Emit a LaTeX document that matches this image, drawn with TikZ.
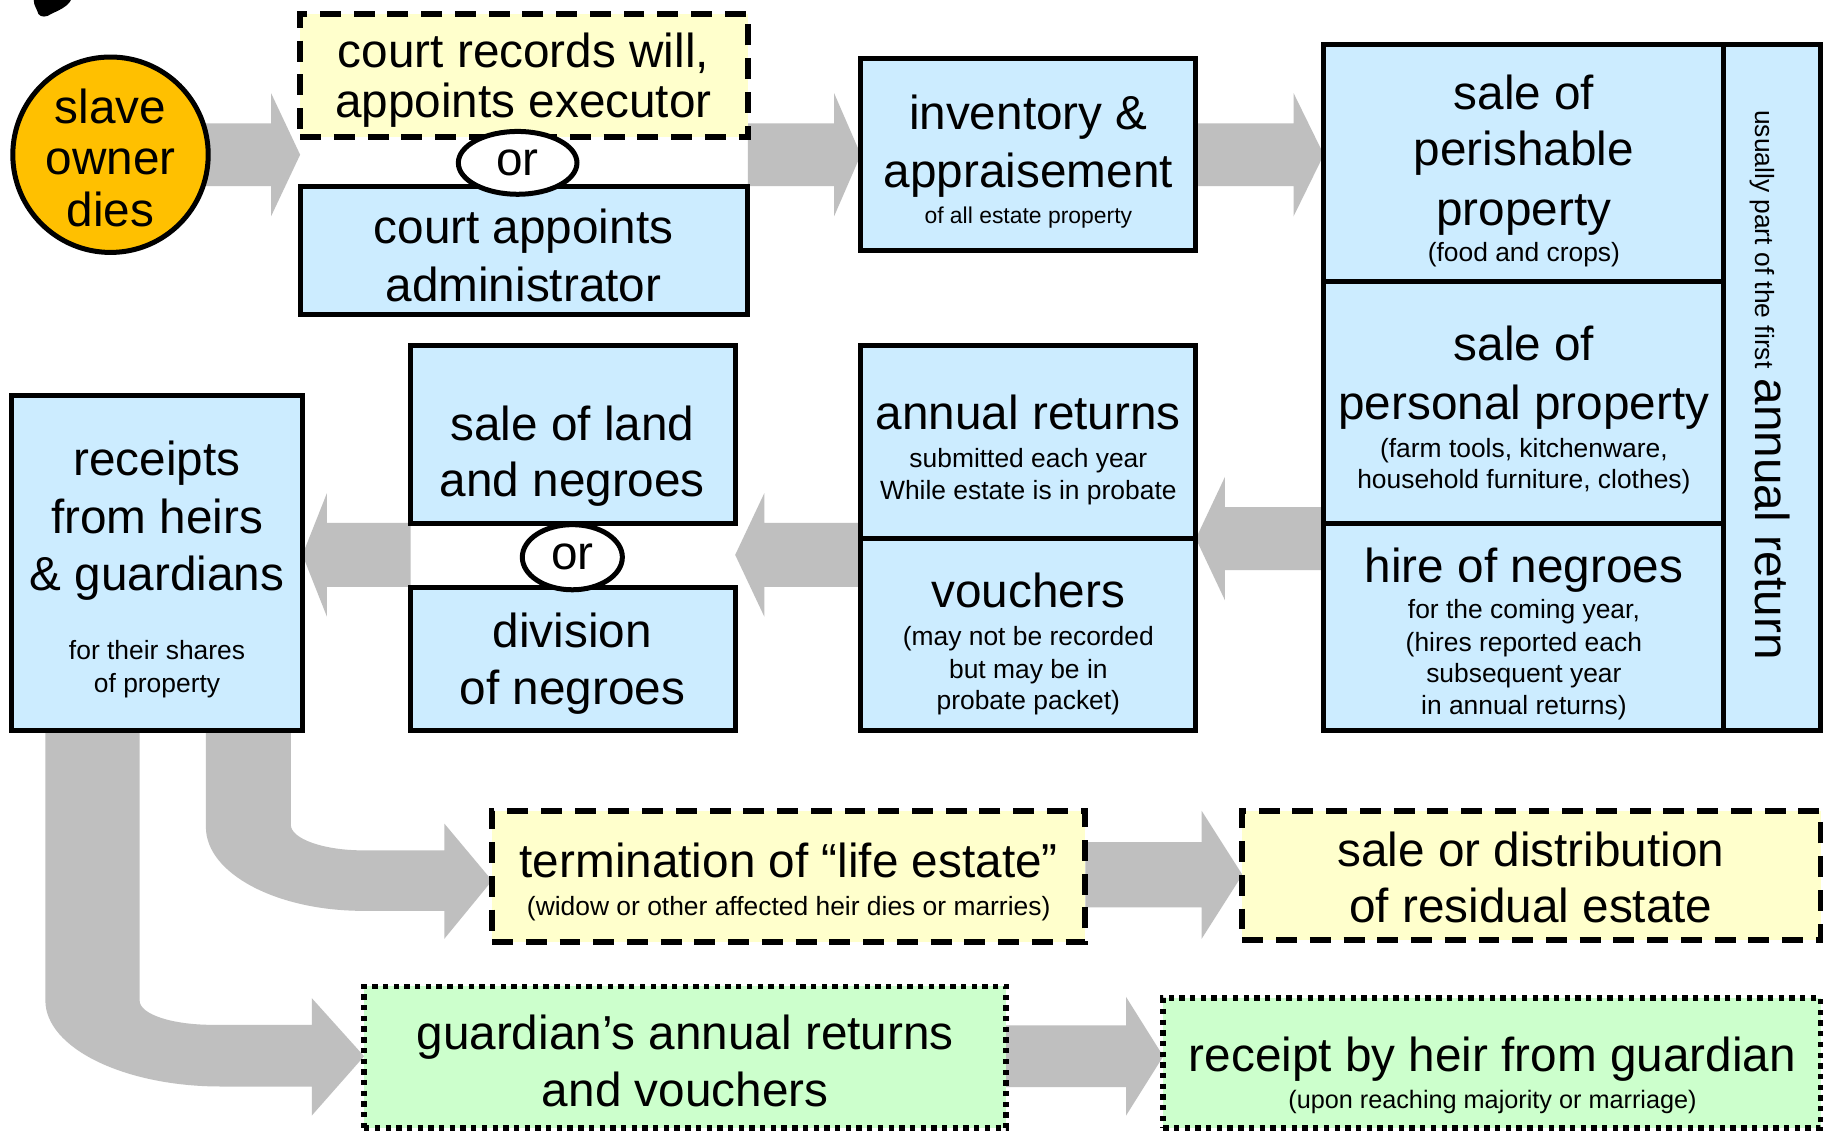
\documentclass[tikz,border=0pt]{standalone}
\usepackage{fontspec}
\setmainfont{Liberation Sans}
\usetikzlibrary{shapes.geometric,calc,backgrounds}
\definecolor{boxblue}{HTML}{CCECFF}
\definecolor{boxyellow}{HTML}{FFFFCC}
\definecolor{boxgreen}{HTML}{CCFFCC}
\definecolor{dieorange}{HTML}{FFC000}
\definecolor{arrowgray}{HTML}{BFBFBF}
\newcommand\bigf{\fontsize{41}{49}\selectfont}
\newcommand\smf{\fontsize{22.7}{27}\selectfont}
\newcommand\smff{\fontsize{21.7}{26}\selectfont}
\newcommand\tinyf{\fontsize{19.7}{24}\selectfont}
\tikzset{
 basebox/.style={draw=black, line width=4.3pt, rectangle, inner sep=0pt, outer sep=0pt},
 bluebox/.style={basebox, fill=boxblue},
 yelbox/.style={basebox, fill=boxyellow, line width=5pt, dash pattern=on 18pt off 11pt},
 grnbox/.style={basebox, fill=boxgreen, line width=5pt, dash pattern=on 4.6pt off 4.6pt},
 ornode/.style={ellipse, draw=black, line width=4.3pt, fill=white, inner sep=0pt, font=\bigf},
 lbl/.style={anchor=base, inner sep=0pt, font=\bigf, yshift=-4pt},
 slbl/.style={anchor=base, inner sep=0pt, font=\smf, yshift=-3pt},
}
\newcommand\mybox[6]{\node[#2, anchor=north west, minimum width={#5-#3}, minimum height={#6-#4}] (#1) at (#3,#4) {};}
\newcommand\tl[5]{\node[#4] (#1) at (#2,#3) {#5};}
% right-pointing block arrow: start node, tip node, y, shaft half, head half, head length
\newcommand\rblk[6]{\fill[arrowgray] let \p1=(#1), \p2=(#2), \p3=(0,#3) in
 (\x1,\y3+#4) -- (\x2-#6,\y3+#4) -- (\x2-#6,\y3+#5) -- (\x2,\y3) -- (\x2-#6,\y3-#5) -- (\x2-#6,\y3-#4) -- (\x1,\y3-#4) -- cycle;}
\newcommand\lblk[6]{\fill[arrowgray] let \p1=(#1), \p2=(#2), \p3=(0,#3) in
 (\x1,\y3+#4) -- (\x2+#6,\y3+#4) -- (\x2+#6,\y3+#5) -- (\x2,\y3) -- (\x2+#6,\y3-#5) -- (\x2+#6,\y3-#4) -- (\x1,\y3-#4) -- cycle;}
\begin{document}
\begin{tikzpicture}[x=1pt,y=-1pt]
\useasboundingbox (0,0) rectangle (1568,975);
% blob
\fill (29,0) -- (61,0) .. controls (58,6) and (50,9) .. (44,12) .. controls (40,15) and (35,15) .. (33,12) .. controls (32,8) and (29,5) .. cycle;
% start circle
\node[circle, draw=black, line width=4.3pt, fill=dieorange, minimum size=168pt, inner sep=0pt] (dies) at (95,133) {};
% boxes
\mybox{crec}{yelbox}{258}{12}{643}{118}
\mybox{cadm}{bluebox}{258}{160}{643}{270}
\mybox{inv}{bluebox}{740}{50}{1028}{215}
\mybox{perish}{bluebox}{1138}{38}{1482}{242}
\mybox{pers}{bluebox}{1138}{242}{1482}{450}
\mybox{hire}{bluebox}{1138}{450}{1482}{628}
\mybox{strip}{bluebox}{1482}{38}{1565}{628}
\mybox{annret}{bluebox}{740}{297}{1028}{463}
\mybox{vouch}{bluebox}{740}{463}{1028}{628}
\mybox{sland}{bluebox}{353}{297}{632}{450}
\mybox{divn}{bluebox}{353}{505}{632}{628}
\mybox{rcpt}{bluebox}{10}{340}{260}{628}
\mybox{term}{yelbox}{423}{697}{933}{810}
\mybox{sdist}{yelbox}{1068}{697}{1565}{808}
\mybox{guard}{grnbox}{313}{848}{865}{970}
\mybox{rheir}{grnbox}{1000}{858}{1565}{970}
% or nodes
\node[ornode, minimum width=102pt, minimum height=54pt] (or1) at (445,140) {or};
\node[ornode, minimum width=86pt, minimum height=56pt] (or2) at (492,479) {or};
% texts
\tl{t1}{95}{102}{lbl}{slave}
\tl{t2}{95}{146}{lbl}{owner}
\tl{t3}{95}{191}{lbl}{dies}
\tl{t4}{450}{54}{lbl}{court records will,}
\tl{t5}{450}{97}{lbl}{appoints executor}
\tl{t6}{450}{205}{lbl}{court appoints}
\tl{t7}{450}{255}{lbl}{administrator}
\tl{t8}{884}{107}{lbl}{inventory \&}
\tl{t9}{884}{157}{lbl}{appraisement}
\tl{t10}{884}{189}{slbl,font=\tinyf}{of all estate property}
\tl{t11}{1310}{90}{lbl}{sale of}
\tl{t12}{1310}{138}{lbl}{perishable}
\tl{t13}{1310}{190}{lbl}{property}
\tl{t14}{1310}{222}{slbl}{(food and crops)}
\tl{t15}{1310}{306}{lbl}{sale of}
\tl{t16}{1310}{357}{lbl}{personal property}
\tl{t17}{1310}{390}{slbl}{(farm tools, kitchenware,}
\tl{t18}{1310}{417}{slbl}{household furniture, clothes)}
\tl{t19}{1310}{497}{lbl}{hire of negroes}
\tl{t20}{1310}{529}{slbl}{for the coming year,}
\tl{t21}{1310}{557}{slbl}{(hires reported each}
\tl{t22}{1310}{584}{slbl}{subsequent year}
\tl{t23}{1310}{611}{slbl}{in annual returns)}
\node[rotate=-90, anchor=base, inner sep=0pt] (t24) at (1509,331) {{\smf usually part of the first}\hspace{9pt}{\bigf annual return}};
\tl{t25}{884}{365}{lbl}{annual returns}
\tl{t26}{884}{399}{slbl}{submitted each year}
\tl{t27}{884}{426}{slbl}{While estate is in probate}
\tl{t28}{884}{518}{lbl}{vouchers}
\tl{t29}{884}{552}{slbl}{(may not be recorded}
\tl{t30}{884}{580}{slbl}{but may be in}
\tl{t31}{884}{607}{slbl}{probate packet)}
\tl{t32}{135}{405}{lbl}{receipts}
\tl{t33}{135}{455}{lbl}{from heirs}
\tl{t34}{135}{504}{lbl}{\& guardians}
\tl{t35}{135}{564}{slbl}{for their shares}
\tl{t36}{135}{592}{slbl}{of property}
\tl{t37}{492}{375}{lbl}{sale of land}
\tl{t38}{492}{423}{lbl}{and negroes}
\tl{t39}{492}{553}{lbl}{division}
\tl{t40}{492}{602}{lbl}{of negroes}
\tl{t41}{678}{750}{lbl}{termination of “life estate”}
\tl{t42}{678}{784}{slbl}{(widow or other affected heir dies or marries)}
\tl{t43}{1316}{741}{lbl}{sale or distribution}
\tl{t44}{1316}{789}{lbl}{of residual estate}
\tl{t45}{589}{898}{lbl}{guardian’s annual returns}
\tl{t46}{589}{947}{lbl}{and vouchers}
\tl{t47}{1283}{917}{lbl}{receipt by heir from guardian}
\tl{t48}{1283}{950}{slbl,font=\smff}{(upon reaching majority or marriage)}
% arrows
\coordinate (tipA) at (423,757);
\coordinate (tipB) at (313,908);
\begin{pgfonlayer}{background}
\fill[white] (0,0) rectangle (1568,975);
\rblk{dies.center}{crec.west}{133}{27pt}{53pt}{25pt}
\rblk{crec.east}{inv.west}{133}{27pt}{53pt}{23pt}
\rblk{inv.east}{perish.west}{133}{27pt}{53pt}{26pt}
\lblk{pers.west}{annret.east}{463}{27pt}{53pt}{25pt}
\lblk{annret.west}{sland.east}{477}{27.5pt}{53pt}{25pt}
\lblk{sland.west}{rcpt.east}{477}{27.5pt}{53pt}{21pt}
\rblk{term.east}{sdist.west}{752}{28pt}{55pt}{35pt}
\rblk{guard.east}{rheir.west}{908}{26.5pt}{51pt}{32pt}
\fill[arrowgray] (177,628) -- (177,711) .. controls (177,751) and (238,783) .. (312,783) -- (382,783) -- (382,807) -- (tipA) -- (382,708) -- (382,731) -- (312,731) .. controls (278,731) and (250,721) .. (250,709) -- (250,628) -- cycle;
\fill[arrowgray] (39,628) -- (39,860) .. controls (39,901) and (107,934) .. (190,934) -- (268,934) -- (268,959) -- (tipB) -- (268,858) -- (268,881) -- (183,881) .. controls (148,881) and (120,872) .. (120,860) -- (120,628) -- cycle;
\end{pgfonlayer}
\end{tikzpicture}
\end{document}
